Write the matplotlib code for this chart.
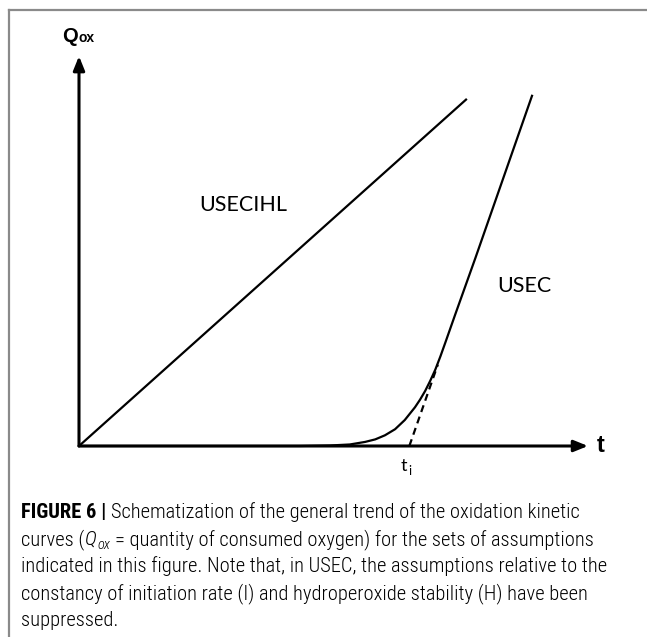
import matplotlib
matplotlib.use("Agg")
import matplotlib.pyplot as plt
from matplotlib import font_manager as fm
from matplotlib.lines import Line2D

# ---------------- data (schematic units) ----------------
usecihl_t = [0.0, 7.62]
usecihl_q = [0.0, 6.82]

usec_t = [0.0, 4.34, 4.93, 5.32, 5.62, 5.82, 6.01, 6.21, 6.40, 6.60, 6.70,
          6.80, 6.90, 7.00, 7.10, 7.20, 7.39, 7.79, 8.90]
usec_q = [0.0, 0.0, 0.01, 0.03, 0.08, 0.13, 0.21, 0.33, 0.51, 0.76, 0.91,
          1.08, 1.28, 1.50, 1.76, 2.04, 2.58, 3.70, 6.88]

tangent_t = [6.49, 7.05]
tangent_q = [0.0, 1.60]

t_axis_end = 10.0
q_axis_end = 7.66

curve_names = ["USECIHL", "USEC"]

caption_lines = [
    [("FIGURE 6 |", "bold"), ("Schematization of the general trend of the oxidation kinetic", "normal")],
    [("curves (", "normal"), ("Q", "italic"), ("ox", "italicsub"),
     ("= quantity of consumed oxygen) for the sets of assumptions", "normal")],
    [("indicated in this figure. Note that, in USEC, the assumptions relative to the", "normal")],
    [("constancy of initiation rate (I) and hydroperoxide stability (H) have been", "normal")],
    [("suppressed.", "normal")],
]

# ---------------- figure ----------------
W, H = 647, 637
fig = plt.figure(figsize=(W / 100, H / 100), dpi=100)
fig.patch.set_facecolor("white")

scale = 50.9          # pixels per data unit
ox_px, oy_px = 79, 446  # origin in pixels from top-left
ax = fig.add_axes([0, 0, 1, 1])
ax.set_xlim(-ox_px / scale, (W - ox_px) / scale)
ax.set_ylim(-(H - oy_px) / scale, oy_px / scale)
ax.axis("off")

# frame of the figure panel
fig.add_artist(Line2D([9 / W, 1], [1 - 10 / H, 1 - 10 / H], color="#8a8a8a", lw=1.6,
                      transform=fig.transFigure))
fig.add_artist(Line2D([9 / W, 9 / W], [0, 1 - 10 / H], color="#8a8a8a", lw=1.6,
                      transform=fig.transFigure))

# axes arrows
arrow_kw = dict(arrowstyle="-|>,head_length=0.42,head_width=0.17", color="black",
                lw=2.2, shrinkA=0, shrinkB=0, mutation_scale=20)
ax.annotate("", xy=(0, q_axis_end), xytext=(0, 0), arrowprops=arrow_kw)
ax.annotate("", xy=(t_axis_end, 0), xytext=(0, 0), arrowprops=arrow_kw)

# curves
ax.plot(usecihl_t, usecihl_q, color="black", lw=1.6, solid_capstyle="butt")
ax.plot(usec_t, usec_q, color="black", lw=1.6, solid_joinstyle="round")
ax.plot(tangent_t, tangent_q, color="black", lw=1.6, ls=(0, (3.2, 2.2)))

label_font = "Lato"
ax.text(3.22, 4.74, curve_names[0], fontsize=15.5, family=label_font,
        ha="center", va="center")
ax.text(8.75, 3.14, curve_names[1], fontsize=15.5, family=label_font,
        ha="center", va="center")

renderer = fig.canvas.get_renderer()


def place_run(x, y, pieces):
    """pieces: (text, fontprops, dy, gap_after) in display pixels"""
    for s, kw, dy, gap in pieces:
        t = fig.text(x, y + dy, s, transform=None, ha="left", va="baseline", **kw)
        x = t.get_window_extent(renderer).x1 + gap
    return x


# axis labels
place_run(62, H - 42, [("Q", dict(family="Liberation Sans", fontweight="bold", fontsize=14.5), 0, 0.5),
                       ("ox", dict(family="Liberation Sans", fontweight="bold", fontsize=10), 0, 0)])
fig.text(597, H - 452, "t", transform=None, ha="left", va="baseline",
         family="Liberation Sans", fontweight="bold", fontsize=17)
place_run(401, H - 471, [("t", dict(family=label_font, fontsize=13), 0, 0.5),
                         ("i", dict(family=label_font, fontsize=9), -4, 0)])

# caption
names = {f.name for f in fm.fontManager.ttflist}
cap_family = next((n for n in ["Liberation Sans Narrow", "Roboto Condensed",
                               "Open Sans Condensed"] if n in names), "Liberation Sans")
cap_weight = "light"


def cap_props(style, size):
    if style == "bold":
        return dict(family=cap_family, fontweight="bold", fontsize=size)
    if style == "italic":
        return dict(family=cap_family, style="italic", fontweight=cap_weight, fontsize=size)
    if style == "italicsub":
        return dict(family=cap_family, style="italic", fontweight=cap_weight, fontsize=size * 0.7)
    return dict(family=cap_family, fontweight=cap_weight, fontsize=size)


# fit caption font size to the reference line width
probe = fig.text(0, 0, caption_lines[2][0][0], transform=None, **cap_props("normal", 12))
w12 = probe.get_window_extent(renderer).width
probe.remove()
cap_size = 12 * (607 - 21) / w12

sp_probe = fig.text(0, 0, "a a", transform=None, **cap_props("normal", cap_size))
w_aa = fig.text(0, 0, "aa", transform=None, **cap_props("normal", cap_size))
space_w = sp_probe.get_window_extent(renderer).width - w_aa.get_window_extent(renderer).width
sp_probe.remove()
w_aa.remove()

baselines = [518, 545, 572, 599, 626]
for line, yb in zip(caption_lines, baselines):
    pieces = []
    for i, (s, st) in enumerate(line):
        nxt = line[i + 1][1] if i + 1 < len(line) else None
        dy = -4 if st == "italicsub" else 0
        if nxt is None:
            gap = 0
        elif s.endswith("(") or nxt == "italicsub":
            gap = 0.5
        else:
            gap = space_w
        pieces.append((s, cap_props(st, cap_size), dy, gap))
    place_run(21, H - yb, pieces)

fig.savefig("out.png", dpi=100, facecolor="white")
